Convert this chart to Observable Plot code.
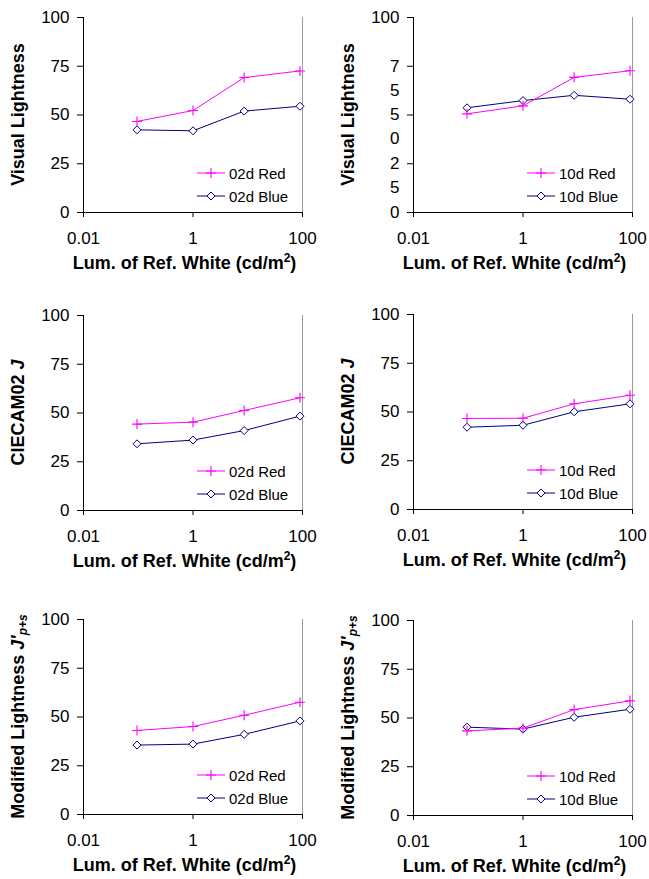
<!DOCTYPE html>
<html>
<head>
<meta charset="utf-8">
<script src="https://cdn.jsdelivr.net/npm/d3@7"></script>
<script src="https://cdn.jsdelivr.net/npm/@observablehq/plot@0.6"></script>
<style>
  html, body { margin: 0; padding: 0; background: #fff; }
  #wrap { position: relative; width: 649px; height: 879px; overflow: hidden; font-family: "Liberation Sans", Arial, sans-serif; }
  #wrap svg { position: absolute; overflow: visible; }
</style>
</head>
<body>
<div id="wrap"></div>
<script>
// ---- data ----
const luminance = [0.095, 1, 8.6, 90];
const xTicks = [0.01, 1, 100];
const xTickLabels = ["0.01", "1", "100"];
const yTicks = [0, 25, 50, 75, 100];
const yTickLabels = ["0", "25", "50", "75", "100"];
const yTickLabelsWrapped = ["0", "2\n5", "5\n0", "7\n5", "100"];

const visual02Red  = [46.7, 52.3, 69.2, 72.6];
const visual02Blue = [42.4, 41.9, 52.0, 54.5];
const visual10Red  = [50.6, 54.7, 69.3, 72.7];
const visual10Blue = [53.7, 57.4, 60.1, 58.1];
const ciecam02Red  = [44.3, 45.3, 51.3, 57.8];
const ciecam02Blue = [34.2, 36.1, 41.0, 48.4];
const ciecam10Red  = [46.7, 46.8, 54.2, 58.6];
const ciecam10Blue = [42.2, 43.2, 50.1, 54.2];
const modified02Red  = [43.1, 45.1, 50.9, 57.6];
const modified02Blue = [35.6, 36.1, 41.1, 48.0];
const modified10Red  = [43.4, 44.8, 54.3, 58.8];
const modified10Blue = [45.3, 44.3, 50.4, 54.5];

const RED = "#ff00ff", BLUE = "#000080";

const plusSym = {draw(ctx, size) { const r = Math.sqrt(size / Math.PI); ctx.moveTo(-r, 0); ctx.lineTo(r, 0); ctx.moveTo(0, -r); ctx.lineTo(0, r); }};
const diamondSym = {draw(ctx, size) { const r = Math.sqrt(size / Math.PI); ctx.moveTo(0, -r); ctx.lineTo(r, 0); ctx.lineTo(0, r); ctx.lineTo(-r, 0); ctx.closePath(); }};

const panels = [
  {left: 0,   top: 0,   mL: 83, mR: 18, tag: "02d", red: visual02Red,  blue: visual02Blue, ytitle: [["Visual Lightness"]], labels: yTickLabels},
  {left: 325, top: 0,   mL: 88, mR: 17, tag: "10d", red: visual10Red,  blue: visual10Blue, ytitle: [["Visual Lightness"]], labels: yTickLabelsWrapped},
  {left: 0,   top: 298, mL: 83, mR: 18, tag: "02d", red: ciecam02Red,  blue: ciecam02Blue, ytitle: [["CIECAM02 "], ["J", "italic"]], labels: yTickLabels},
  {left: 325, top: 297, mL: 88, mR: 17, tag: "10d", red: ciecam10Red,  blue: ciecam10Blue, ytitle: [["CIECAM02 "], ["J", "italic"]], labels: yTickLabels},
  {left: 0,   top: 602, mL: 83, mR: 18, tag: "02d", red: modified02Red, blue: modified02Blue, ytitle: [["Modified Lightness "], ["J'", "italic"], ["p+s", "sub"]], labels: yTickLabels},
  {left: 325, top: 603, mL: 88, mR: 17, tag: "10d", red: modified10Red, blue: modified10Blue, ytitle: [["Modified Lightness "], ["J'", "italic"], ["p+s", "sub"]], labels: yTickLabels}
];

const wrap = document.getElementById("wrap");
const mT = 17, plotH = 195, plotW = 219, mB = 66;
const FONT = "'Liberation Sans', Arial, sans-serif";

for (const p of panels) {
  const redRows = luminance.map((x, i) => ({x, y: p.red[i]}));
  const blueRows = luminance.map((x, i) => ({x, y: p.blue[i]}));
  const first = i => p.labels[i].split("\n")[0];
  const second = i => (p.labels[i].split("\n")[1] || "");
  const width = p.mL + plotW + p.mR;
  const height = mT + plotH + mB;

  const marks = [
    Plot.ruleX([100], {stroke: "#9a9a9a", strokeWidth: 1}),
    Plot.axisY({ticks: yTicks, tickSize: 6, tickPadding: 8, fontSize: 17, tickFormat: (d) => first(yTicks.indexOf(d))}),
    Plot.axisX({ticks: xTicks, tickSize: 5, tickPadding: 14, fontSize: 17, tickFormat: (d) => xTickLabels[xTicks.indexOf(d)]}),
    Plot.ruleX([0.01], {stroke: "black"}),
    Plot.ruleY([0], {stroke: "black"}),
    Plot.line(blueRows, {x: "x", y: "y", stroke: BLUE, strokeWidth: 1}),
    Plot.line(redRows, {x: "x", y: "y", stroke: RED, strokeWidth: 1}),
    Plot.dot(blueRows, {x: "x", y: "y", symbol: diamondSym, r: 4, stroke: BLUE, fill: "white", strokeWidth: 1}),
    Plot.dot(redRows, {x: "x", y: "y", symbol: plusSym, r: 5, stroke: RED, strokeWidth: 1.1})
  ];
  if (p.labels.some(l => l.includes("\n"))) {
    marks.splice(2, 0, Plot.axisY({ticks: yTicks, tickSize: 0, tickPadding: 14, fontSize: 17, dy: 24, tickFormat: (d) => second(yTicks.indexOf(d))}));
  }

  const svg = Plot.plot({
    width, height,
    marginLeft: p.mL, marginRight: p.mR, marginTop: mT, marginBottom: mB,
    style: {fontFamily: FONT, fontSize: "17px", color: "black", background: "transparent", overflow: "visible"},
    x: {type: "log", domain: [0.01, 100], label: null},
    y: {domain: [0, 100], label: null},
    marks
  });
  svg.style.left = p.left + "px";
  svg.style.top = p.top + "px";
  wrap.appendChild(svg);

  const g = d3.select(svg).append("g").attr("font-family", FONT).attr("text-anchor", "start");
  const bottom = mT + plotH;
  // x title
  const xt = g.append("text")
    .attr("x", p.mL + plotW / 2 - 8).attr("y", bottom + 57)
    .attr("text-anchor", "middle").attr("font-weight", "bold").attr("font-size", 18).attr("fill", "black");
  xt.append("tspan").text("Lum. of Ref. White (cd/m");
  xt.append("tspan").text("2").attr("font-size", 12).attr("dy", -7);
  xt.append("tspan").text(")").attr("dy", 7);
  // y title
  const yt = g.append("text")
    .attr("transform", `translate(${p.mL - 65},${mT + plotH / 2}) rotate(-90)`)
    .attr("text-anchor", "middle").attr("dominant-baseline", "central")
    .attr("font-weight", "bold").attr("font-size", 18).attr("fill", "black");
  for (const [t, st] of p.ytitle) {
    const ts = yt.append("tspan").text(t);
    if (st === "italic") ts.attr("font-style", "italic");
    if (st === "sub") ts.attr("font-style", "italic").attr("font-size", 12).attr("dy", 5);
  }
  // legend
  const leg = [
    {name: `${p.tag} Red`, color: RED, sym: "plus", dy: -39},
    {name: `${p.tag} Blue`, color: BLUE, sym: "diamond", dy: -16}
  ];
  for (const l of leg) {
    const y = bottom + l.dy;
    g.append("line").attr("x1", p.mL + 114).attr("x2", p.mL + 142).attr("y1", y).attr("y2", y).attr("stroke", l.color);
    const cx = p.mL + 128;
    if (l.sym === "plus") {
      g.append("path").attr("d", `M${cx - 5},${y}H${cx + 5}M${cx},${y - 5}V${y + 5}`).attr("stroke", l.color).attr("stroke-width", 1.1);
    } else {
      g.append("path").attr("d", `M${cx},${y - 4}L${cx + 4},${y}L${cx},${y + 4}L${cx - 4},${y}Z`).attr("stroke", l.color).attr("fill", "white");
    }
    g.append("text").attr("x", p.mL + 146).attr("y", y).attr("dominant-baseline", "central")
      .attr("text-anchor", "start").attr("font-size", 15).attr("fill", "black").text(l.name);
  }
}
</script>
</body>
</html>
